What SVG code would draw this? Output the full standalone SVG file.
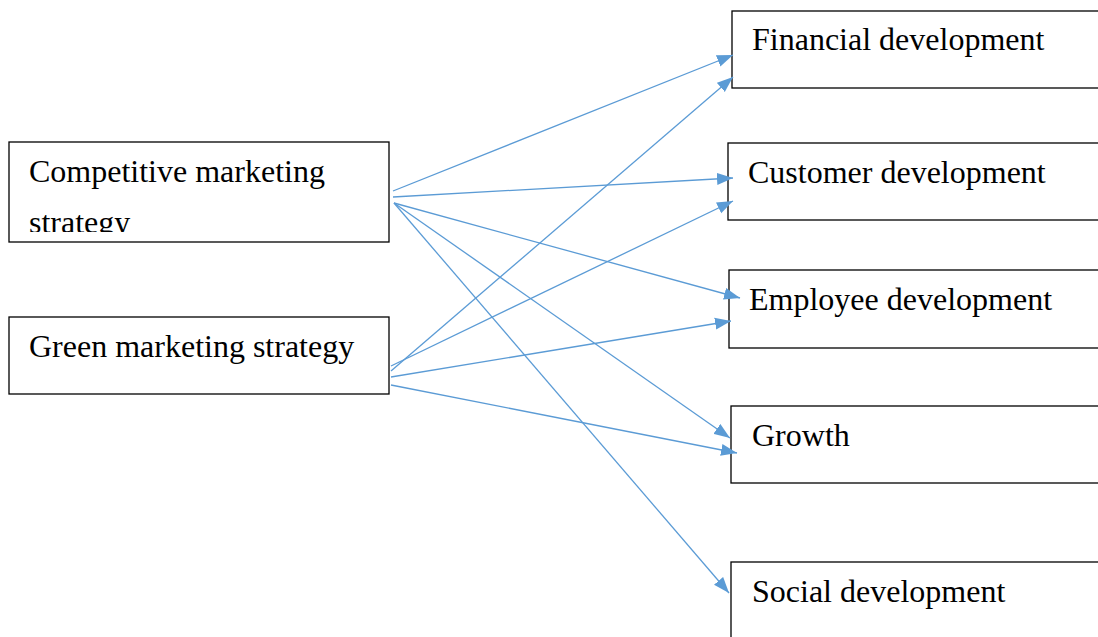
<svg xmlns="http://www.w3.org/2000/svg" width="1098" height="637" viewBox="0 0 1098 637">
<style>
.box{fill:#fff;stroke:#000;stroke-width:1.3}
.t{font-family:"Liberation Serif","Times New Roman",serif;font-size:32px;fill:#000}
.c{stroke:#5B9BD5;stroke-width:1.3;fill:none;marker-end:url(#ah)}
</style>
<defs>
<marker id="ah" markerUnits="userSpaceOnUse" markerWidth="17" markerHeight="13" refX="16" refY="6.5" orient="auto">
<path d="M0,0.5 L16,6.5 L0,12.5 z" fill="#5B9BD5"/>
</marker>
<clipPath id="clipc"><rect x="9" y="142" width="380" height="90"/></clipPath>
</defs>
<rect width="1098" height="637" fill="#fff"/>
<g id="competitive">
<rect class="box" x="9" y="142" width="380" height="100"/>
<text class="t" clip-path="url(#clipc)"><tspan x="29" y="182">Competitive marketing</tspan><tspan x="29" y="233">strategy</tspan></text>
</g>
<g id="green">
<rect class="box" x="9" y="317" width="380" height="77"/>
<text class="t" x="29" y="357">Green marketing strategy</text>
</g>
<g id="financial">
<rect class="box" x="732" y="11" width="370" height="77"/>
<text class="t" x="752" y="50">Financial development</text>
</g>
<g id="customer">
<rect class="box" x="728" y="143" width="374" height="77"/>
<text class="t" x="748" y="183">Customer development</text>
</g>
<g id="employee">
<rect class="box" x="729" y="270" width="373" height="78"/>
<text class="t" x="749" y="310">Employee development</text>
</g>
<g id="growth">
<rect class="box" x="731" y="406" width="371" height="77"/>
<text class="t" x="752" y="446">Growth</text>
</g>
<g id="social">
<rect class="box" x="731" y="562" width="371" height="80"/>
<text class="t" x="752" y="602">Social development</text>
</g>
<g id="connectors">
<line class="c" x1="393" y1="191" x2="733" y2="55"/>
<line class="c" x1="393" y1="197" x2="733" y2="178"/>
<line class="c" x1="394" y1="203" x2="740" y2="298"/>
<line class="c" x1="394" y1="203" x2="730" y2="438"/>
<line class="c" x1="394" y1="203" x2="729" y2="593"/>
<line class="c" x1="391" y1="371" x2="733" y2="77"/>
<line class="c" x1="391" y1="366" x2="733" y2="201"/>
<line class="c" x1="391" y1="377" x2="731" y2="321"/>
<line class="c" x1="391" y1="385" x2="737" y2="453"/>
</g>
</svg>
